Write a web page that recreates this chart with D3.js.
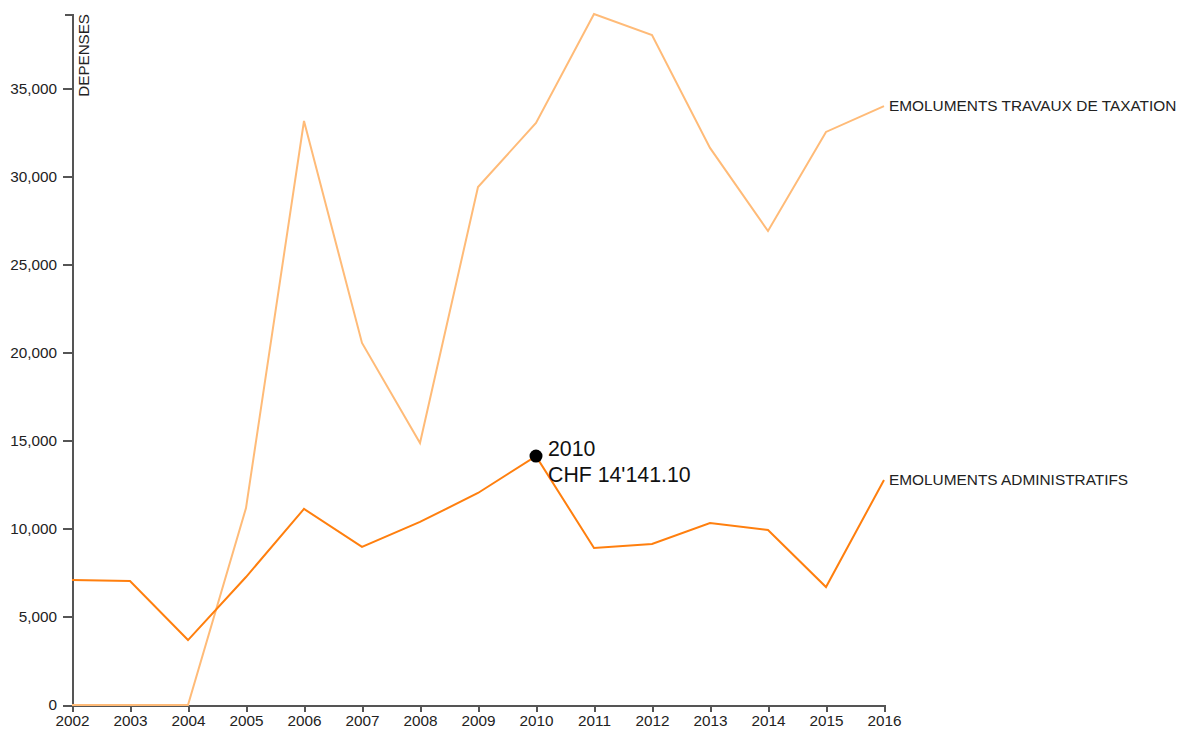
<!DOCTYPE html>
<html><head><meta charset="utf-8">
<script src="https://cdn.jsdelivr.net/npm/d3@7"></script>
<style>
body{margin:0;background:#fff;font-family:"Liberation Sans",Arial,sans-serif;}
.axis path,.axis line{stroke:#555;stroke-width:2px;fill:none;shape-rendering:crispEdges;}
.axis text{font-size:15.3px;fill:#222;font-family:"Liberation Sans",Arial,sans-serif;}
</style></head><body>
<script>
const years = [2002,2003,2004,2005,2006,2007,2008,2009,2010,2011,2012,2013,2014,2015,2016];
const seriesNames = ["EMOLUMENTS TRAVAUX DE TAXATION","EMOLUMENTS ADMINISTRATIFS"];
const taxation = [0,0,0,11190,33180,20570,14890,29430,33070,39260,38070,31650,26930,32560,34030];
const administratifs = [7100,7045,3690,7270,11140,8980,10400,12045,14141.10,8920,9150,10340,9940,6705,12780];
const seriesColors = ["#ffbb78","#ff7f0e"];
const yTicks = [0,5000,10000,15000,20000,25000,30000,35000];
const highlightYear = 2010;

const W=1177,H=731;
const margin={top:14,right:293,bottom:26,left:72};
const w=W-margin.left-margin.right, h=H-margin.top-margin.bottom;
const svg=d3.select("body").append("svg").attr("width",W).attr("height",H);
const g=svg.append("g").attr("transform",`translate(${margin.left},${margin.top})`);

const x=d3.scaleLinear().domain(d3.extent(years)).range([0,w]);
const allVals=taxation.concat(administratifs);
const y=d3.scaleLinear().domain([0,d3.max(allVals)]).range([h,0]);

g.append("g").attr("class","axis").attr("transform",`translate(0,${h})`)
 .call(d3.axisBottom(x).tickValues(years).tickFormat(d3.format("d")).tickSizeOuter(0).tickSizeInner(7).tickPadding(2))
 .selectAll("text").attr("dy","0.8em");
const ya=g.append("g").attr("class","axis")
 .call(d3.axisLeft(y).tickValues(yTicks).tickFormat(d3.format(",")).tickSizeInner(9).tickPadding(6).tickSizeOuter(7));
ya.append("text").attr("transform","rotate(-90)").attr("y",6).attr("dy",".71em")
 .style("text-anchor","end").style("font-size","15.2px").attr("fill","#222").text("DEPENSES");

const line=d3.line().x((d,i)=>x(years[i])).y(d=>y(d));
const data=[taxation,administratifs];
data.forEach((s,k)=>{
  g.append("path").datum(s).attr("d",line).attr("fill","none")
   .attr("stroke",seriesColors[k]).attr("stroke-width",2);
  g.append("text").attr("x",x(years[years.length-1])+5).attr("y",y(s[s.length-1]))
   .attr("dy","0.35em").style("font-size","15.4px").attr("fill","#222").text(seriesNames[k]);
});

const hi=years.indexOf(highlightYear);
const hv=administratifs[hi];
g.append("circle").attr("cx",x(highlightYear)).attr("cy",y(hv)).attr("r",6.5).attr("fill","#000");
const tt=g.append("text").attr("x",x(highlightYear)+12).attr("y",y(hv)).style("font-size","21.3px").attr("fill","#111");
tt.append("tspan").attr("x",x(highlightYear)+12).attr("dy","0").text(highlightYear);
tt.append("tspan").attr("x",x(highlightYear)+12).attr("dy","1.2em")
  .text("CHF "+d3.format(",.2f")(hv).replace(/,/g,"'"));
</script></body></html>
